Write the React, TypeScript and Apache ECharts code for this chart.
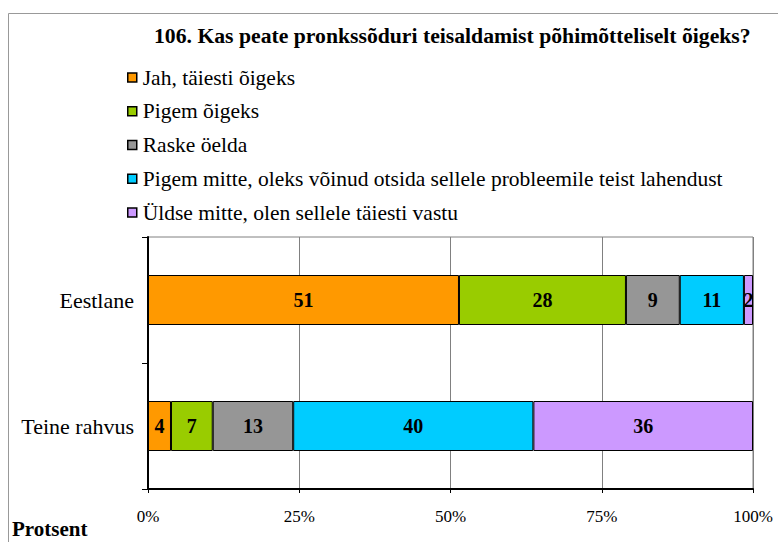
import React, { useEffect, useRef } from "react";
import * as echarts from "echarts";

const categories = ["Eestlane", "Teine rahvus"];
const seriesNames = [
  "Jah, täiesti õigeks",
  "Pigem õigeks",
  "Raske öelda",
  "Pigem mitte, oleks võinud otsida sellele probleemile teist lahendust",
  "Üldse mitte, olen sellele täiesti vastu",
];
const colors = ["#FF9900", "#99CC00", "#969696", "#00CCFF", "#CC99FF"];
// bar shares (percent of row)
const eestlaneShares = [51.4, 27.6, 8.9, 10.6, 1.5];
const teineShares = [3.8, 6.9, 13.3, 39.7, 36.3];
// printed labels
const eestlaneLabels = [51, 28, 9, 11, 2];
const teineLabels = [4, 7, 13, 40, 36];
const xTicks = [0, 25, 50, 75, 100];

const FONT = "Liberation Serif";

export default function App() {
  const ref = useRef<HTMLDivElement>(null);
  useEffect(() => {
    const chart = echarts.init(ref.current!, null, { renderer: "svg" });
    const series = seriesNames.map((name, i) => ({
      name,
      type: "bar",
      stack: "total",
      barWidth: 50,
      itemStyle: { color: colors[i], borderColor: "#000", borderWidth: 1 },
      label: {
        show: true,
        position: "inside",
        color: "#000",
        fontFamily: FONT,
        fontWeight: "bold",
        fontSize: 20,
        formatter: (p: any) =>
          String(p.dataIndex === 0 ? eestlaneLabels[i] : teineLabels[i]),
      },
      data: [eestlaneShares[i], teineShares[i]],
    }));
    chart.setOption({
      animation: false,
      textStyle: { fontFamily: FONT },
      graphic: [
        {
          type: "rect",
          shape: { x: 8.5, y: 13.5, width: 900, height: 700 },
          style: { fill: "none", stroke: "#999", lineWidth: 1 },
          silent: true,
        },
        {
          type: "text",
          left: 12,
          top: 518,
          style: {
            text: "Protsent",
            font: `bold 21px "${FONT}"`,
            fill: "#000",
          },
        },
      ],
      title: {
        text: "106. Kas peate pronkssõduri teisaldamist põhimõtteliselt õigeks?",
        left: 149,
        top: 20,
        textStyle: {
          fontFamily: FONT,
          fontWeight: "bold",
          fontSize: 21.7,
          color: "#000",
        },
      },
      legend: {
        orient: "vertical",
        left: 122,
        top: 61.5,
        itemGap: 11.75,
        itemWidth: 9,
        itemHeight: 9,
        icon: "rect",
        itemStyle: { borderColor: "#000", borderWidth: 1.5 },
        textStyle: { fontFamily: FONT, fontSize: 21.5, color: "#000", padding: [0, 0, 0, 1] },
        data: seriesNames,
      },
      grid: {
        left: 148,
        top: 237,
        width: 605,
        height: 252,
        show: true,
        borderColor: "#808080",
        borderWidth: 1,
      },
      xAxis: {
        type: "value",
        min: 0,
        max: 100,
        interval: 25,
        axisLine: { show: true, lineStyle: { color: "#000", width: 2 } },
        axisTick: { show: true, length: 4, lineStyle: { color: "#000" } },
        splitLine: { show: true, lineStyle: { color: "#808080", width: 1 } },
        axisLabel: {
          formatter: (v: number) => (xTicks.includes(v) ? `${v}%` : ""),
          fontFamily: FONT,
          fontSize: 17,
          color: "#000",
          margin: 19,
        },
      },
      yAxis: {
        type: "category",
        data: categories,
        inverse: true,
        axisLine: { show: true, lineStyle: { color: "#000", width: 2 } },
        axisTick: { show: true, length: 6, lineStyle: { color: "#000" } },
        axisLabel: {
          fontFamily: FONT,
          fontSize: 22,
          color: "#000",
          margin: 14,
        },
      },
      series,
    });
    return () => chart.dispose();
  }, []);
  return (
    <div
      ref={ref}
      style={{ position: "absolute", left: 0, top: 0, width: 778, height: 542 }}
    />
  );
}
